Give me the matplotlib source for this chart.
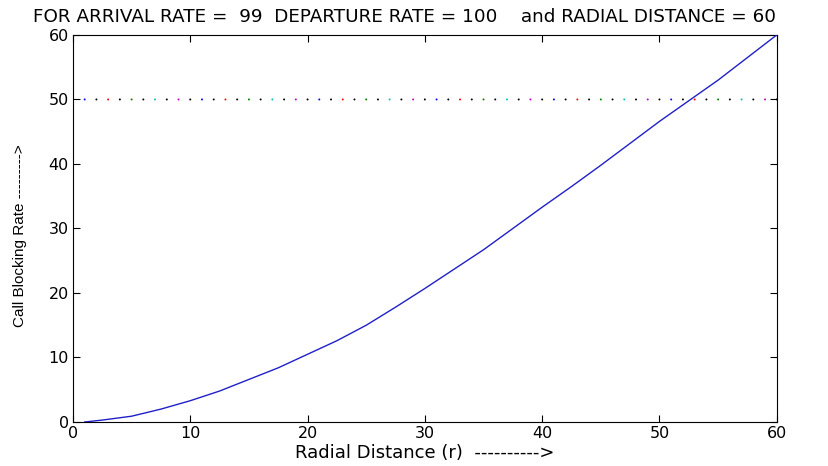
import matplotlib.pyplot as plt

# radial distance vs call blocking rate
r_vals = [1, 2.5, 5, 7.5, 10, 12.5, 15, 17.5, 20, 22.5, 25, 27.5, 30,
          32.5, 35, 37.5, 40, 42.5, 45, 47.5, 50, 52.5, 55, 57.5, 60]
cbr_vals = [0.0, 0.3, 0.9, 2.0, 3.3, 4.8, 6.6, 8.4, 10.5, 12.6, 15.0, 17.8, 20.7,
            23.7, 26.7, 30.0, 33.3, 36.5, 39.8, 43.2, 46.6, 49.8, 53.0, 56.5, 60.0]

# the dotted 50% reference line
ref_level = 50
ref_x = list(range(0, 61))
dot_colors = ["k", "b", "k", "r", "k", "g", "k", "c", "k", "m"]

title_text = "FOR ARRIVAL RATE =  99  DEPARTURE RATE = 100    and RADIAL DISTANCE = 60"


def main():
    plt.rcParams["font.family"] = ["DejaVu Sans"]

    fig = plt.figure(figsize=(8.29, 4.66), dpi=100)
    ax = fig.add_axes([0.088, 0.0944, 0.849, 0.8306])

    # dotted line made of single dots, colours cycling like the original
    cols = [dot_colors[i % len(dot_colors)] for i in range(len(ref_x))]
    ax.scatter(ref_x, [ref_level] * len(ref_x), s=2, c=cols, linewidths=0, zorder=2)

    ax.plot(r_vals, cbr_vals, color="#2020c8", linewidth=1.0, zorder=3)

    ax.set_xlim(0, 60)
    ax.set_ylim(0, 60)
    ax.set_xticks(range(0, 61, 10))
    ax.set_yticks(range(0, 61, 10))
    ax.tick_params(direction="in", length=5, width=0.8, top=True, right=True,
                   labelsize=11.5, pad=3)
    for s in ax.spines.values():
        s.set_linewidth(0.8)

    fig.text(405 / 829, 1 - 17 / 466, title_text, ha="center", va="center", fontsize=13.2)
    fig.text(425 / 829, 1 - 453 / 466, "Radial Distance (r)  ---------->",
             ha="center", va="center", fontsize=13)
    fig.text(20 / 829, 1 - 236 / 466, "Call Blocking Rate --------->",
             ha="center", va="center", rotation=90, fontsize=11,
             family=["Liberation Sans Narrow", "Liberation Sans", "DejaVu Sans"])

    fig.savefig("out.png", dpi=100)


if __name__ == "__main__":
    main()
